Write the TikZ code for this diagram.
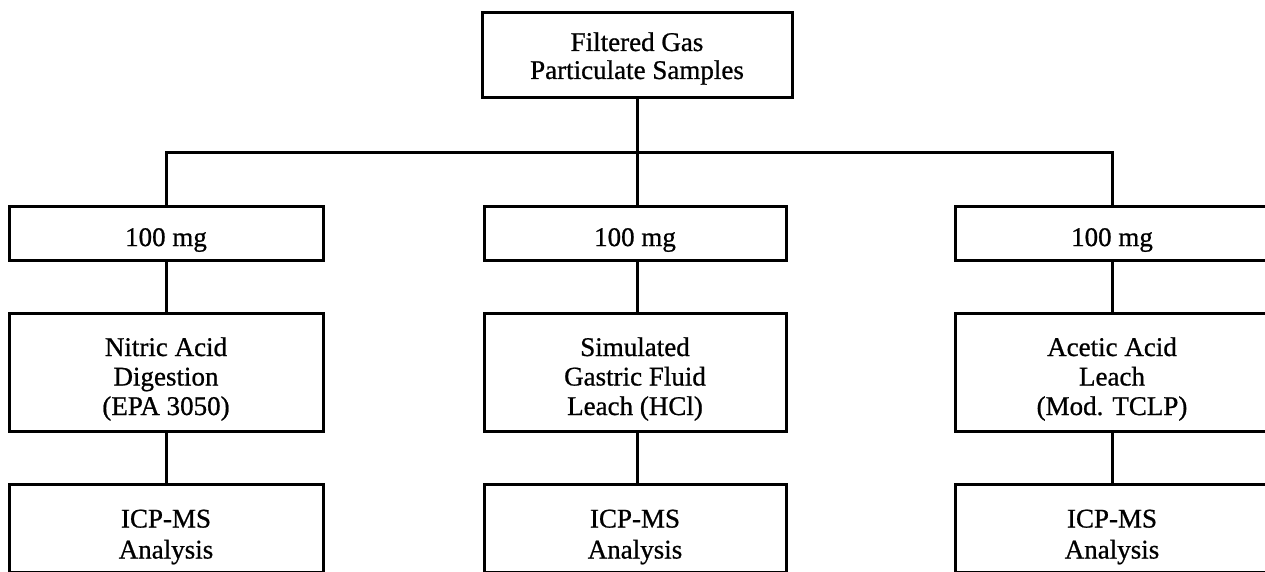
\documentclass[tikz,border=0pt]{standalone}
\usepackage{fontspec}
\setmainfont{Liberation Serif}[FakeBold=0.8]
\begin{document}
\begin{tikzpicture}[x=1pt,y=-1pt,
  box/.style={draw,line width=3pt,rectangle,inner sep=0pt,minimum width=314pt},
  lbl/.style={align=center,inner sep=0pt,font=\fontsize{27}{29.5}\selectfont},
  link/.style={line width=3pt}]
\useasboundingbox (0,0) rectangle (1265,571);
\clip (0,0) rectangle (1265,571);
\fill[white] (0,0) rectangle (1265,571);
\node[box,minimum width=310pt,minimum height=85pt,
  label={[lbl,font=\fontsize{27}{28}\selectfont,yshift=-4pt]center:{Filtered Gas\\Particulate Samples}}] (top) at (637,54.5) {};
\node[box,minimum height=54pt,label={[lbl,yshift=-7pt]center:{100 mg}}] (m1) at (166,233) {};
\node[box,minimum height=54pt,minimum width=302pt,label={[lbl,yshift=-7pt]center:{100 mg}}] (m2) at (635,233) {};
\node[box,minimum height=54pt,label={[lbl,yshift=-7pt]center:{100 mg}}] (m3) at (1112,233) {};
\node[box,minimum height=118pt,label={[lbl,yshift=-7pt]center:{Nitric Acid\\Digestion\\(EPA 3050)}}] (p1) at (166,372) {};
\node[box,minimum height=118pt,minimum width=302pt,label={[lbl,yshift=-7pt]center:{Simulated\\Gastric Fluid\\Leach (HCl)}}] (p2) at (635,372) {};
\node[box,minimum height=118pt,label={[lbl,yshift=-7pt]center:{Acetic Acid\\Leach\\(Mod. TCLP)}}] (p3) at (1112,372) {};
\node[box,minimum height=88pt,label={[lbl,font=\fontsize{27}{31}\selectfont,yshift=-9pt]center:{ICP-MS\\Analysis}}] (a1) at (166,528) {};
\node[box,minimum height=88pt,minimum width=302pt,label={[lbl,font=\fontsize{27}{31}\selectfont,yshift=-9pt]center:{ICP-MS\\Analysis}}] (a2) at (635,528) {};
\node[box,minimum height=88pt,label={[lbl,font=\fontsize{27}{31}\selectfont,yshift=-9pt]center:{ICP-MS\\Analysis}}] (a3) at (1112,528) {};
\coordinate (j) at (637,152);
\draw[link] (top.south) -- (j);
\draw[link] (m1.north) |- (j) -| (m3.north);
\draw[link] (j) -- (j |- m2.north);
\draw[link] (m1.south) -- (p1.north);
\draw[link] (m3.south) -- (p3.north);
\draw[link] (j |- m2.south) -- (j |- p2.north);
\draw[link] (p1.south) -- (a1.north);
\draw[link] (p3.south) -- (a3.north);
\draw[link] (j |- p2.south) -- (j |- a2.north);
\end{tikzpicture}
\end{document}
